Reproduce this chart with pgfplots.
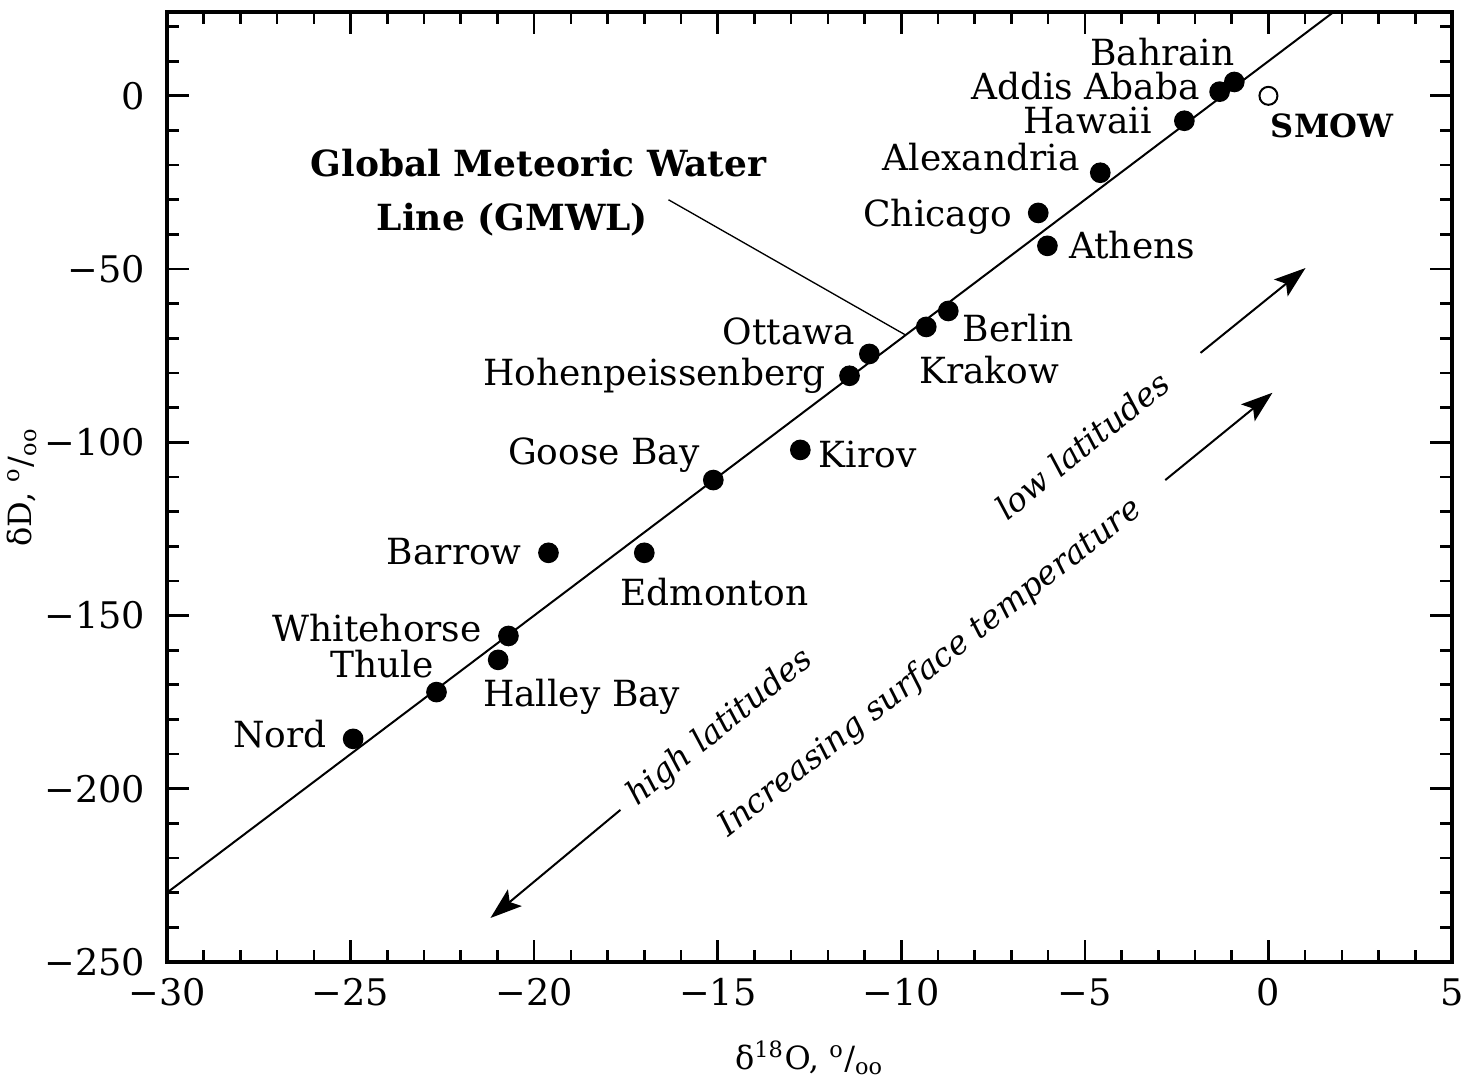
\documentclass[border=0pt]{standalone}
\usepackage{fontspec}
\setmainfont{DejaVu Serif}
\usepackage{pgfplots}
\pgfplotsset{compat=1.18}
\usetikzlibrary{arrows.meta}

% station means: delta-18O, delta-D (per mil)
\pgfplotstableread{
x y
-24.93 -185.6
-22.66 -172.1
-20.98 -162.8
-20.70 -155.9
-19.61 -131.9
-17.00 -131.9
-15.12 -110.9
-12.75 -102.2
-11.41 -80.8
-10.87 -74.5
-9.32 -66.7
-8.72 -62.1
-6.02 -43.3
-6.27 -33.8
-4.58 -22.2
-2.29 -7.2
-1.33 1.2
-0.93 4.0
}\stations

\newcommand\lab{\fontsize{10.8}{12}\selectfont}
\newcommand\tlab{\fontsize{11}{12}\selectfont}
\newcommand\alab{\fontsize{9.6}{11}\selectfont}
\newcommand\ilab{\fontsize{9.8}{11}\selectfont\itshape}

\begin{document}
\begin{tikzpicture}
\begin{axis}[
  name=ax,
  scale only axis,
  width=385.5pt, height=285pt,
  xmin=-30, xmax=5, ymin=-250, ymax=24.2,
  xtick={-30,-25,...,5},
  xticklabels={−30,−25,−20,−15,−10,−5,0,5},
  ytick={-250,-200,...,0},
  yticklabels={−250,−200,−150,−100,−50,0},
  minor xtick={-29,-28,...,4},
  minor ytick={-240,-230,...,20},
  tick align=inside,
  major tick length=6.5pt,
  minor tick length=3.5pt,
  every tick/.style={black, line width=0.8pt},
  axis line style={line width=1pt},
  tick label style={font=\tlab},
  xticklabel style={yshift=-1.5pt},
  yticklabel style={xshift=-3pt},
  xlabel={δ\textsuperscript{18}O, \textsuperscript{o}/\textsubscript{oo}},
  ylabel={δD, \textsuperscript{o}/\textsubscript{oo}},
  xlabel style={at={(axis description cs:0.5,-0.101)}, anchor=center, font=\alab},
  ylabel style={at={(axis description cs:-0.113,0.5)}, anchor=center, font=\alab},
  clip=false,
]
% global meteoric water line, dD = 8 d18O + 10
\addplot[black, line width=0.6pt] coordinates {(-30,-230) (1.775,24.2)};
\addplot[only marks, mark=*, mark size=2.9pt, black] table {\stations};
\addplot[only marks, mark=o, mark size=2.7pt, black, line width=0.6pt] coordinates {(0,0)};

\begin{scope}[every node/.style={inner sep=0pt, font=\lab}]
\node[anchor=center] at (axis cs:-2.89,12.7) {Bahrain};
\node[anchor=east] at (axis cs:-1.85,2.9) {Addis Ababa};
\node[anchor=east] at (axis cs:-3.16,-7.2) {Hawaii};
\node[anchor=west, font=\alab\bfseries] at (axis cs:0.05,-8.7) {SMOW};
\node[anchor=east] at (axis cs:-5.12,-17.6) {Alexandria};
\node[anchor=east] at (axis cs:-6.97,-34.9) {Chicago};
\node[anchor=west] at (axis cs:-5.45,-43.0) {Athens};
\node[anchor=west] at (axis cs:-8.34,-67.0) {Berlin};
\node[anchor=west] at (axis cs:-9.53,-79.1) {Krakow};
\node[anchor=east] at (axis cs:-11.25,-68.1) {Ottawa};
\node[anchor=east] at (axis cs:-12.04,-80.8) {Hohenpeissenberg};
\node[anchor=east] at (axis cs:-15.47,-103.6) {Goose Bay};
\node[anchor=west] at (axis cs:-12.26,-103.6) {Kirov};
\node[anchor=east] at (axis cs:-20.32,-131.6) {Barrow};
\node[anchor=center] at (axis cs:-15.09,-143.2) {Edmonton};
\node[anchor=east] at (axis cs:-21.41,-153.6) {Whitehorse};
\node[anchor=east] at (axis cs:-22.72,-164.0) {Thule};
\node[anchor=west] at (axis cs:-21.41,-173.5) {Halley Bay};
\node[anchor=east] at (axis cs:-25.63,-184.2) {Nord};
\node[font=\lab\bfseries] at (axis cs:-19.88,-19.3) {Global Meteoric Water};
\node[font=\lab\bfseries] at (axis cs:-20.59,-35.8) {Line (GMWL)};
\node[font=\ilab, rotate=39] at (axis cs:-5.07,-100.8) {low latitudes};
\node[font=\ilab, rotate=39] at (axis cs:-14.93,-182.4) {high latitudes};
\node[font=\ilab, rotate=38] at (axis cs:-9.21,-165.1) {Increasing surface temperature};
\end{scope}

% leader from the GMWL caption to the line
\draw[line width=0.4pt] (axis cs:-16.34,-30.0) -- (axis cs:-9.89,-69.0);

% direction arrows
\draw[line width=0.6pt, -{Stealth[length=9.5pt,width=6.5pt,inset=2pt]}] (axis cs:-1.85,-74.2) -- (axis cs:1.01,-49.7);
\draw[line width=0.6pt, -{Stealth[length=9.5pt,width=6.5pt,inset=2pt]}] (axis cs:-2.81,-110.9) -- (axis cs:0.11,-85.7);
\draw[line width=0.6pt, -{Stealth[length=9.5pt,width=6.5pt,inset=2pt]}] (axis cs:-17.65,-206.1) -- (axis cs:-21.19,-237.3);
\end{axis}
\pgfresetboundingbox
\path ([xshift=-50.1pt,yshift=-36.6pt]ax.south west) rectangle ([xshift=4.8pt,yshift=3.6pt]ax.north east);
\end{tikzpicture}
\end{document}
